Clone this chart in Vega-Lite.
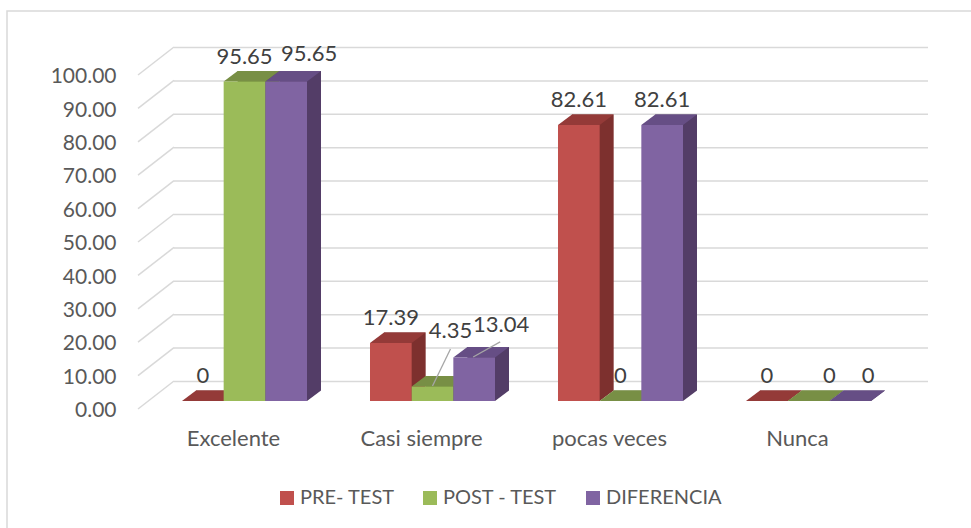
{
"$schema":"https://vega.github.io/schema/vega-lite/v6.json",
"width":966,"height":520,
"autosize":{"type":"none"},
"padding":{"left":7,"top":11,"right":0,"bottom":0},
"background":"white",
"config":{"view":{"stroke":"#d9d9d9","strokeWidth":1.5},"font":"Lato"},
"datasets":{
"bars":[
{"cat":"Excelente","serie":"PRE- TEST","v":0},
{"cat":"Excelente","serie":"POST - TEST","v":95.65},
{"cat":"Excelente","serie":"DIFERENCIA","v":95.65},
{"cat":"Casi siempre","serie":"PRE- TEST","v":17.39},
{"cat":"Casi siempre","serie":"POST - TEST","v":4.35},
{"cat":"Casi siempre","serie":"DIFERENCIA","v":13.04},
{"cat":"pocas veces","serie":"PRE- TEST","v":82.61},
{"cat":"pocas veces","serie":"POST - TEST","v":0},
{"cat":"pocas veces","serie":"DIFERENCIA","v":82.61},
{"cat":"Nunca","serie":"PRE- TEST","v":0},
{"cat":"Nunca","serie":"POST - TEST","v":0},
{"cat":"Nunca","serie":"DIFERENCIA","v":0}
],
"ticks":[{"t":0},{"t":10},{"t":20},{"t":30},{"t":40},{"t":50},{"t":60},{"t":70},{"t":80},{"t":90},{"t":100}]
},
"data":{"name":"bars"},
"encoding":{
"x":{"field":"cat","type":"nominal","title":null,
"scale":{"domain":["Excelente","Casi siempre","pocas veces","Nunca"],"range":[175,864],"paddingInner":0.3351,"paddingOuter":0},
"axis":{"orient":"bottom","offset":-130,"domain":false,"ticks":false,"labelAngle":0,"labelPadding":27,"labelOffset":-11,"labelFontSize":22,"labelColor":"#595959","labelFont":"Lato"}},
"y":{"field":"v","type":"quantitative","title":null,
"scale":{"domain":[0,100],"range":[390,56],"nice":false},
"axis":{"orient":"left","offset":-109,"values":[0,10,20,30,40,50,60,70,80,90,100],"format":".2f","grid":false,"domain":false,"ticks":false,"labelPadding":0,"labelOffset":9.7,"labelFontSize":21,"labelColor":"#595959","labelFont":"Lato"}}
},
"resolve":{"scale":{"color":"independent","xOffset":"independent"}},
"layer":[
{"data":{"name":"ticks"},"mark":{"type":"rule","stroke":"#d9d9d9","strokeWidth":1.5,"yOffset":-19.5,"xOffset":-70.5,"x2Offset":119.5},
"encoding":{"x":{"datum":"Excelente","type":"nominal"},"x2":{"datum":"Nunca"},"y":{"field":"t","type":"quantitative"}}},
{"data":{"name":"ticks"},"mark":{"type":"point","shape":"M-1,0.778L1,-0.778","filled":false,"stroke":"#d9d9d9","strokeWidth":1.5,"size":1296,"opacity":1,"xOffset":-88.5,"yOffset":-6},
"encoding":{"x":{"datum":"Excelente","type":"nominal"},"y":{"field":"t","type":"quantitative"}}},
{"mark":{"type":"bar","yOffset":-10.5},
"encoding":{"xOffset":{"field":"serie","scale":{"domain":["PRE- TEST","POST - TEST","DIFERENCIA"],"range":[14,139]}},"y2":{"datum":0},
"color":{"field":"serie","legend":null,"scale":{"domain":["PRE- TEST","POST - TEST","DIFERENCIA"],"range":["#7d302e","#5f7530","#533d67"]}}}},
{"mark":{"type":"point","shape":"M2.98,0.75L4.98,0.75L4.98,-0.75Z","filled":true,"fill":"white","strokeWidth":0,"size":196,"opacity":1,"yOffset":-5.25},
"encoding":{"xOffset":{"field":"serie","scale":{"domain":["PRE- TEST","POST - TEST","DIFERENCIA"]}},"y":{"datum":0,"type":"quantitative"}}},
{"mark":{"type":"point","shape":"M-0.749,0.1885L0.748,0.1885L1.251,-0.1885L-0.246,-0.1885Z","filled":true,"strokeWidth":0,"size":3102,"opacity":1,"yOffset":-5.25},
"encoding":{"xOffset":{"field":"serie","scale":{"domain":["PRE- TEST","POST - TEST","DIFERENCIA"]}},
"color":{"field":"serie","legend":null,"scale":{"domain":["PRE- TEST","POST - TEST","DIFERENCIA"],"range":["#943a38","#788f45","#664e85"]}}}},
{"mark":{"type":"bar"},
"encoding":{"xOffset":{"field":"serie","scale":{"domain":["PRE- TEST","POST - TEST","DIFERENCIA"]}},"y2":{"datum":0},
"color":{"field":"serie","title":null,"scale":{"domain":["PRE- TEST","POST - TEST","DIFERENCIA"],"range":["#C0504D","#9BBB59","#8064A2"]},
"legend":{"orient":"none","legendX":270,"legendY":477,"direction":"horizontal","title":null,"symbolType":"square","symbolSize":196,"symbolStrokeWidth":0,"labelFontSize":20,"labelColor":"#595959","labelFont":"Lato","labelOffset":3,"columnPadding":25}}}},
{"transform":[{"filter":"datum.cat=='Casi siempre'&&datum.serie=='POST - TEST'"}],
"mark":{"type":"point","shape":"M0,1L0.972,-1","filled":false,"stroke":"#a6a6a6","strokeWidth":1.3,"size":1369,"opacity":1,"yOffset":-19},
"encoding":{"xOffset":{"field":"serie","scale":{"domain":["PRE- TEST","POST - TEST","DIFERENCIA"]}}}},
{"transform":[{"filter":"datum.cat=='Casi siempre'&&datum.serie=='DIFERENCIA'"}],
"mark":{"type":"point","shape":"M-0.074,0.556L1.926,-0.556","filled":false,"stroke":"#a6a6a6","strokeWidth":1.3,"size":729,"opacity":1,"yOffset":-8},
"encoding":{"xOffset":{"field":"serie","scale":{"domain":["PRE- TEST","POST - TEST","DIFERENCIA"]}}}},
{"transform":[{"filter":"!((datum.serie=='DIFERENCIA'&&datum.cat!='pocas veces')||(datum.cat=='Casi siempre'&&datum.serie=='POST - TEST')||(datum.cat=='Nunca'&&datum.serie=='POST - TEST'))"}],
"mark":{"type":"text","fontSize":22,"color":"#404040","dy":-25,"font":"Lato"},
"encoding":{"xOffset":{"field":"serie","scale":{"domain":["PRE- TEST","POST - TEST","DIFERENCIA"]}},"text":{"field":"v","type":"nominal"}}},
{"transform":[{"filter":"datum.cat=='Excelente'&&datum.serie=='DIFERENCIA'"}],
"mark":{"type":"text","fontSize":22,"color":"#404040","dx":23,"dy":-27.5,"font":"Lato"},
"encoding":{"xOffset":{"field":"serie","scale":{"domain":["PRE- TEST","POST - TEST","DIFERENCIA"]}},"text":{"field":"v","type":"nominal"}}},
{"transform":[{"filter":"datum.cat=='Casi siempre'&&datum.serie=='POST - TEST'"}],
"mark":{"type":"text","fontSize":22,"color":"#404040","dx":18,"dy":-55,"font":"Lato"},
"encoding":{"xOffset":{"field":"serie","scale":{"domain":["PRE- TEST","POST - TEST","DIFERENCIA"]}},"text":{"field":"v","type":"nominal"}}},
{"transform":[{"filter":"datum.cat=='Casi siempre'&&datum.serie=='DIFERENCIA'"}],
"mark":{"type":"text","fontSize":22,"color":"#404040","dx":27,"dy":-32.5,"font":"Lato"},
"encoding":{"xOffset":{"field":"serie","scale":{"domain":["PRE- TEST","POST - TEST","DIFERENCIA"]}},"text":{"field":"v","type":"nominal"}}},
{"transform":[{"filter":"datum.cat=='Nunca'&&datum.serie=='POST - TEST'"}],
"mark":{"type":"text","fontSize":22,"color":"#404040","dx":21,"dy":-25,"font":"Lato"},
"encoding":{"xOffset":{"field":"serie","scale":{"domain":["PRE- TEST","POST - TEST","DIFERENCIA"]}},"text":{"field":"v","type":"nominal"}}},
{"transform":[{"filter":"datum.cat=='Nunca'&&datum.serie=='DIFERENCIA'"}],
"mark":{"type":"text","fontSize":22,"color":"#404040","dx":18,"dy":-25,"font":"Lato"},
"encoding":{"xOffset":{"field":"serie","scale":{"domain":["PRE- TEST","POST - TEST","DIFERENCIA"]}},"text":{"field":"v","type":"nominal"}}}
]
}
